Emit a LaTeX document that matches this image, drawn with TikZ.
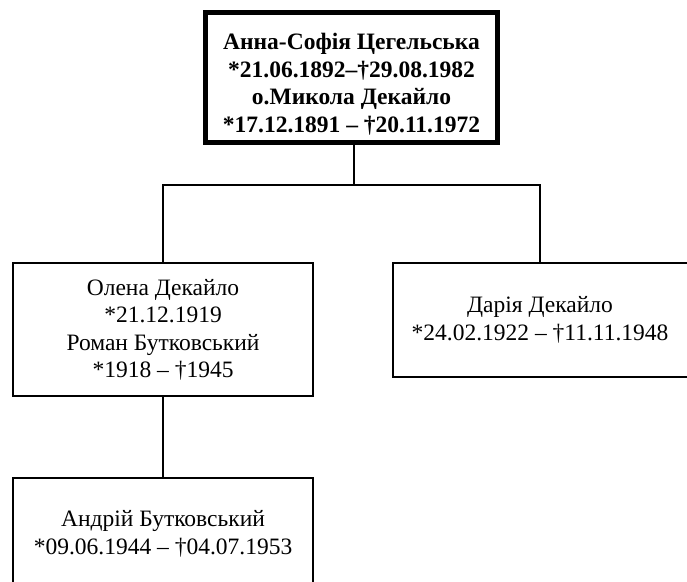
\documentclass[tikz,border=0pt]{standalone}
\usepackage{fontspec}
\setmainfont{Liberation Serif}
\begin{document}
\begin{tikzpicture}[x=1pt,y=-1pt,
  box/.style={draw=black,line width=2pt,rectangle,inner sep=0pt,fill=white},
  mainbox/.style={box,line width=5.5pt},
  txt/.style={align=center,inner sep=0pt,font=\fontsize{23.5}{27.5}\selectfont},
  conn/.style={draw=black,line width=2pt}]
\useasboundingbox (0,0) rectangle (687,581);
% boxes
\node[mainbox,minimum width=292,minimum height=130] (top) at (351.5,77.5) {};
\node[box,minimum width=300,minimum height=133] (left) at (163,329.5) {};
\node[box,minimum width=296,minimum height=114] (right) at (541,320) {};
\node[box,minimum width=300,minimum height=112] (bottom) at (163,534) {};
% texts
\node[txt,font=\fontsize{23.5}{27.5}\selectfont\bfseries] (toptext) at (351.5,84) {Анна-Софія Цегельська\\*21.06.1892–†29.08.1982\\о.Микола Декайло\\*17.12.1891 – †20.11.1972};
\node[txt] (lefttext) at (163,330) {Олена Декайло\\*21.12.1919\\Роман Бутковський\\*1918 – †1945};
\node[txt] (righttext) at (540,320) {Дарія Декайло\\*24.02.1922 – †11.11.1948};
\node[txt] (bottomtext) at (163,534) {Андрій Бутковський\\*09.06.1944 – †04.07.1953};
% connectors
\coordinate (bus) at (354,185);
\draw[conn] ([xshift=2.5pt]top.south) -- (bus);
\draw[conn] (left.north) |- (bus) -| ([xshift=-1pt]right.north);
\draw[conn] (left.south) -- (bottom.north);
\end{tikzpicture}
\end{document}
